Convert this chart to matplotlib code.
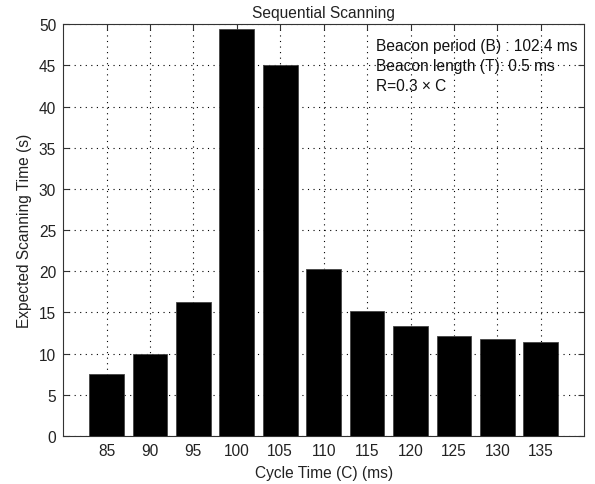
import matplotlib
matplotlib.use("Agg")
import matplotlib.pyplot as plt

# data
cycle_times = [85, 90, 95, 100, 105, 110, 115, 120, 125, 130, 135]
scan_times = [7.5, 10.0, 16.3, 49.4, 45.0, 20.3, 15.2, 13.4, 12.1, 11.8, 11.4]
notes = ["Beacon period (B) : 102.4 ms", "Beacon length (T): 0.5 ms", "R=0.3 \u00d7 C"]

plt.rcParams["font.family"] = ["Liberation Sans", "DejaVu Sans"]
plt.rcParams["font.size"] = 11.2

fig = plt.figure(figsize=(5.95, 4.85), dpi=100)
ax = fig.add_axes([0.106, 0.099, 0.876, 0.849])

pos = list(range(1, len(cycle_times) + 1))
ax.bar(pos, scan_times, width=0.8, color="black", edgecolor="#444444", linewidth=0.6, zorder=3)

ax.set_xlim(0, 12)
ax.set_ylim(0, 50)
ax.set_xticks(pos)
ax.set_xticklabels([str(c) for c in cycle_times])
ax.set_yticks(range(0, 51, 5))
ax.tick_params(direction="in", top=True, right=True, length=4, pad=5,
               color="#333333", labelcolor="#222222")
ax.grid(True, linestyle=(0, (1, 4)), color="black", linewidth=0.8, zorder=0)
ax.set_axisbelow(True)
for s in ax.spines.values():
    s.set_color("#333333")

ax.set_xlabel("Cycle Time (C) (ms)", color="#222222", labelpad=5)
ax.set_ylabel("Expected Scanning Time (s)", color="#222222", labelpad=5)
ax.set_title("Sequential Scanning", fontsize=11.2, color="#222222", pad=5)

for t, y in zip(notes, [47.4, 45.0, 42.5]):
    ax.text(7.2, y, t, va="center", ha="left", color="#111111", zorder=4)

fig.savefig("out.png", dpi=100)
